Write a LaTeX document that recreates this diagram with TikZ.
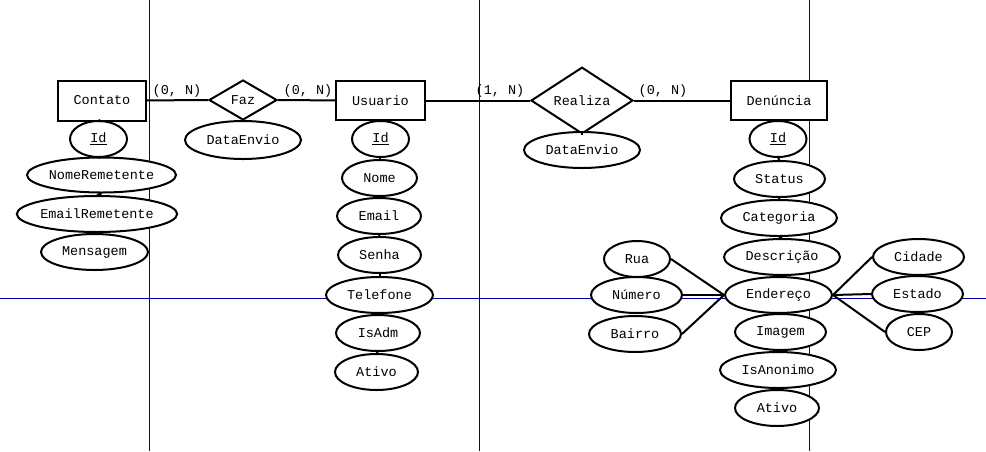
\documentclass[tikz,border=0pt]{standalone}
\usepackage{fontspec}
\newfontfamily\erfont{Liberation Mono}
\usetikzlibrary{shapes.geometric}
\definecolor{guide}{RGB}{0,0,160}
\begin{document}
\begin{tikzpicture}[x=1pt,y=-1pt,
  every node/.style={font=\erfont\fontsize{13.5}{15}\selectfont, text=black},
  entity/.style={draw, line width=2pt, fill=white, rectangle, inner sep=0pt},
  rel/.style={draw, line width=2pt, fill=white, diamond, inner sep=0pt},
  attr/.style={draw, line width=2pt, fill=white, ellipse, inner sep=0pt, minimum height=36pt},
  link/.style={line width=2pt},
  card/.style={inner sep=0pt},
  guideline/.style={draw=guide, line width=1pt}]
\useasboundingbox (0,0) rectangle (986,451);
\fill[white] (0,0) rectangle (986,451);

% page guides
\coordinate (gl) at (0,298.5);    \coordinate (gr) at (986,298.5);
\coordinate (g1t) at (149.5,0);  \coordinate (g1b) at (149.5,451);
\coordinate (g2t) at (479.5,0);  \coordinate (g2b) at (479.5,451);
\coordinate (g3t) at (809.5,0);  \coordinate (g3b) at (809.5,451);
\draw[guideline] (gl) -- (gr);
\draw[guideline] (g1t) -- (g1b);
\draw[guideline] (g2t) -- (g2b);
\draw[guideline] (g3t) -- (g3b);

% entities and relationships
\node[entity, minimum width=88pt, minimum height=40pt] (contato) at (102,100.5) {Contato};
\node[rel, minimum width=68pt, minimum height=40pt] (faz) at (243,100) {Faz};
\node[entity, minimum width=89pt, minimum height=39pt] (usuario) at (380.5,100.5) {Usuario};
\node[rel, minimum width=102pt, minimum height=61pt] (realiza) at (582,100.5) {Realiza};
\node[entity, minimum width=96pt, minimum height=39pt] (denuncia) at (779,100.5) {Denúncia};

\draw[link] (contato) -- (faz);
\draw[link] (faz) -- (usuario);
\draw[link] (usuario) -- (realiza);
\draw[link] (realiza) -- (denuncia);

\node[card] (c1) at (177,91) {(0, N)};
\node[card] (c2) at (308,91) {(0, N)};
\node[card] (c3) at (500,91) {(1, N)};
\node[card] (c4) at (663,91) {(0, N)};

% relationship attributes
\node[attr, minimum width=116pt, minimum height=38pt] (fazdata) at (243,140) {DataEnvio};
\node[attr, minimum width=116pt] (realdata) at (582,150) {DataEnvio};
\draw[link] (faz.south) -- (fazdata.north);
\draw[link] (realiza.south) -- (realdata.north);

% Contato attributes
\node[attr, minimum width=57pt] (cid) at (98.5,139) {\underline{Id}};
\node[attr, minimum width=149pt, minimum height=35pt] (cnome) at (101.5,175) {NomeRemetente};
\node[attr, minimum width=158pt] (cemail) at (97,214) {EmailRemetente};
\node[attr, minimum width=107pt] (cmsg) at (94.5,252) {Mensagem};
\draw[link] (contato.south) -- (cid.north);
\draw[link] (cid.south) -- (cnome.north);
\draw[link] (cnome.south) -- (cemail.north);
\draw[link] (cemail.south) -- (cmsg.north);

% Usuario attributes
\node[attr, minimum width=57pt] (uid) at (380.5,139) {\underline{Id}};
\node[attr, minimum width=75pt] (unome) at (379.5,178) {Nome};
\node[attr, minimum width=84pt] (uemail) at (379,216) {Email};
\node[attr, minimum width=83pt] (usenha) at (379.5,255) {Senha};
\node[attr, minimum width=107pt] (utel) at (379.5,295) {Telefone};
\node[attr, minimum width=84pt] (uadm) at (378,333) {IsAdm};
\node[attr, minimum width=83pt] (uativo) at (376.5,372) {Ativo};
\draw[link] (usuario.south) -- (uid.north);
\draw[link] (uid.south) -- (unome.north);
\draw[link] (unome.south) -- (uemail.north);
\draw[link] (uemail.south) -- (usenha.north);
\draw[link] (usenha.south) -- (utel.north);
\draw[link] (utel.south) -- (uadm.north);
\draw[link] (uadm.south) -- (uativo.north);

% Denuncia attributes
\node[attr, minimum width=57pt] (did) at (778,139) {\underline{Id}};
\node[attr, minimum width=91pt] (dstatus) at (779.5,179) {Status};
\node[attr, minimum width=116pt] (dcat) at (779,218) {Categoria};
\node[attr, minimum width=116pt] (ddesc) at (782,257) {Descrição};
\node[attr, minimum width=107pt] (dend) at (778.5,295) {Endereço};
\node[attr, minimum width=91pt] (dimg) at (780.5,332) {Imagem};
\node[attr, minimum width=116pt] (danon) at (778,370) {IsAnonimo};
\node[attr, minimum width=84pt] (dativo) at (777,408) {Ativo};
\draw[link] (denuncia.south) -- (did.north);
\draw[link] (did.south) -- (dstatus.north);
\draw[link] (dstatus.south) -- (dcat.north);
\draw[link] (dcat.south) -- (ddesc.north);
\draw[link] (ddesc.south) -- (dend.north);
\draw[link] (dend.south) -- (dimg.north);
\draw[link] (dimg.south) -- (danon.north);
\draw[link] (danon.south) -- (dativo.north);

% Endereco components
\node[attr, minimum width=66pt] (rua) at (637,259) {Rua};
\node[attr, minimum width=91pt] (numero) at (636.5,295) {Número};
\node[attr, minimum width=92pt] (bairro) at (635,334) {Bairro};
\node[attr, minimum width=91pt] (cidade) at (918.5,257) {Cidade};
\node[attr, minimum width=91pt] (estado) at (917.5,294) {Estado};
\node[attr, minimum width=66pt] (cep) at (919,332) {CEP};
\draw[link] (rua.east) -- (dend.west);
\draw[link] (numero.east) -- (dend.west);
\draw[link] (bairro.east) -- (dend.west);
\draw[link] (cidade.west) -- (dend.east);
\draw[link] (estado.west) -- (dend.east);
\draw[link] (cep.west) -- (dend.east);
\end{tikzpicture}
\end{document}
